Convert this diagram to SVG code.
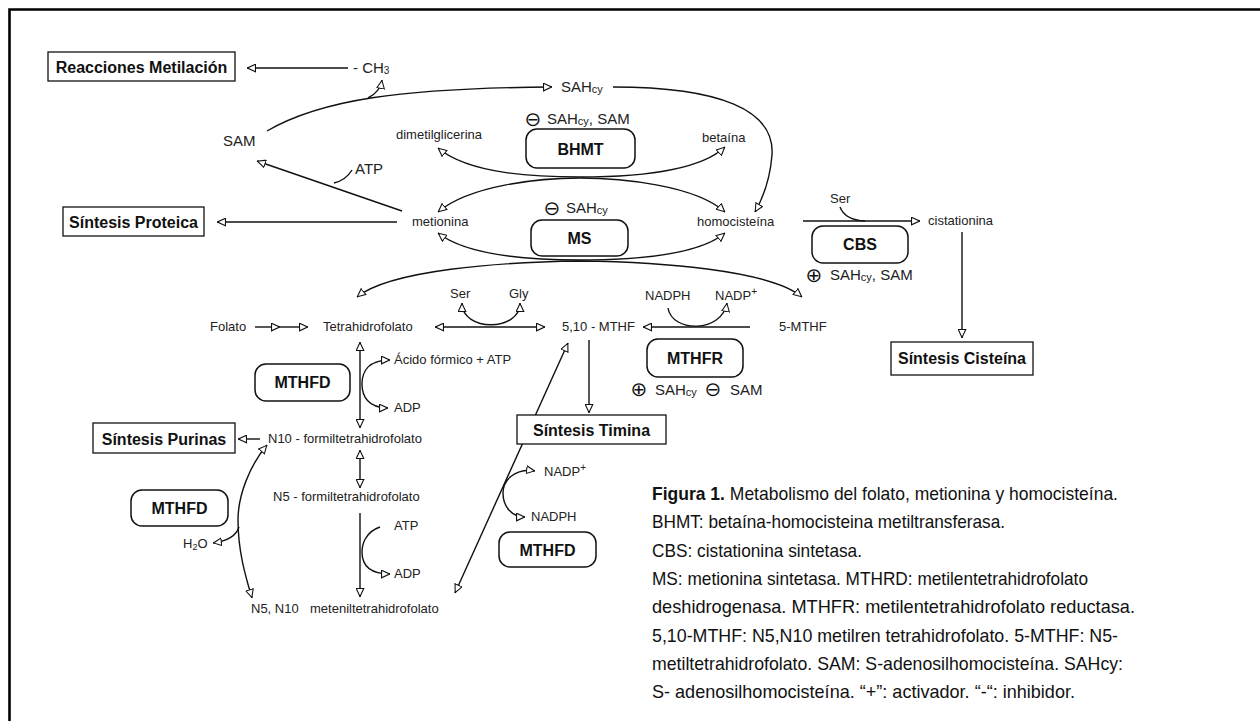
<svg xmlns="http://www.w3.org/2000/svg" width="1260" height="721" viewBox="0 0 1260 721">
<defs>
<style>
.lbl{font-family:"Liberation Sans",Arial,sans-serif;font-size:13px;fill:#222}
.lbm{font-size:15px}
.box{fill:#fff;stroke:#111;stroke-width:1.3}
.rbox{fill:#fff;stroke:#111;stroke-width:1.5}
.bt{font-family:"Liberation Sans",Arial,sans-serif;font-weight:bold;font-size:16px;text-anchor:middle;fill:#111}
.c{fill:none;stroke:#111;stroke-width:1.4}
.sym{font-family:"DejaVu Sans",sans-serif;font-size:20px;text-anchor:middle;fill:#111}
.cap{font-family:"Liberation Sans",Arial,sans-serif;font-size:19px;fill:#111}
</style>
<marker id="a" viewBox="0 0 10 10" refX="10" refY="5" markerWidth="9" markerHeight="9" markerUnits="userSpaceOnUse" orient="auto-start-reverse">
<path d="M0.6,0.8 L9.5,5 L0.6,9.2 z" fill="#fff" stroke="#111" stroke-width="1.2"/>
</marker>
</defs>
<rect width="1260" height="721" fill="#fff"/>
<path d="M9.5,721 V9.5 H1260" fill="none" stroke="#000" stroke-width="2.6"/>

<g id="connectors">
<path class="c" d="M348,68 L247,68" marker-end="url(#a)"/>
<path class="c" d="M267,131 C320,100 400,88 552,87" marker-end="url(#a)"/>
<path class="c" d="M368,98 Q380,92 382,80" marker-end="url(#a)"/>
<path class="c" d="M613,87 C720,87 775,110 772,155 C770,180 763,198 755,212" marker-end="url(#a)"/>
<path class="c" d="M402,211 L257,161" marker-end="url(#a)"/>
<path class="c" d="M334,183 Q346,180 352,170"/>
<path class="c" d="M397,222 L217,222" marker-end="url(#a)"/>
<path class="c" d="M438,148 C470,175 540,177 580,177 C620,177 695,175 725,147" marker-start="url(#a)" marker-end="url(#a)"/>
<path class="c" d="M438,212 C470,185 540,178 580,178 C620,178 695,185 725,212" marker-start="url(#a)" marker-end="url(#a)"/>
<path class="c" d="M438,233 C470,258 540,260 580,260 C620,260 695,258 725,233" marker-start="url(#a)" marker-end="url(#a)"/>
<path class="c" d="M357,297 C390,270 500,262 580,261 C660,262 770,270 802,297" marker-start="url(#a)" marker-end="url(#a)"/>
<path class="c" d="M803,221 L920,221" marker-end="url(#a)"/>
<path class="c" d="M840,207 Q845,220 865,221"/>
<path class="c" d="M962,232 L962,338" marker-end="url(#a)"/>
<path class="c" d="M255,327 L280,327" marker-end="url(#a)"/>
<path class="c" d="M280,327 L308,327" marker-end="url(#a)"/>
<path class="c" d="M435,327 L545,327" marker-start="url(#a)" marker-end="url(#a)"/>
<path class="c" d="M462,303 C462,332 520,332 520,303" marker-start="url(#a)" marker-end="url(#a)"/>
<path class="c" d="M750,327 L643,327" marker-end="url(#a)"/>
<path class="c" d="M668,308 C672,333 722,333 727,303" marker-end="url(#a)"/>
<path class="c" d="M589,340 L589,413" marker-end="url(#a)"/>
<path class="c" d="M455,593 L568,343" marker-start="url(#a)" marker-end="url(#a)"/>
<path class="c" d="M535,471 C515,468 503,480 503,493 C503,507 512,517 525,517" marker-start="url(#a)" marker-end="url(#a)"/>
<path class="c" d="M360,342 L360,428" marker-start="url(#a)" marker-end="url(#a)"/>
<path class="c" d="M390,360 C368,360 362,372 362,384 C362,396 368,408 388,408" marker-start="url(#a)" marker-end="url(#a)"/>
<path class="c" d="M260,439 L238,439" marker-end="url(#a)"/>
<path class="c" d="M360,450 L360,488" marker-start="url(#a)" marker-end="url(#a)"/>
<path class="c" d="M360,513 L360,597" marker-end="url(#a)"/>
<path class="c" d="M380,527 C365,532 362,545 362,552 C362,565 370,574 390,574" marker-end="url(#a)"/>
<path class="c" d="M267,445 C250,465 238,495 238,520 C238,550 245,575 252,598" marker-start="url(#a)" marker-end="url(#a)"/>
<path class="c" d="M239,527 Q235,540 213,543" marker-end="url(#a)"/>
</g>

<g id="reacciones-metilacion"><rect class="box" x="48" y="52" width="187" height="29"/><text class="bt" x="141.5" y="73">Reacciones Metilación</text></g>
<g id="sintesis-proteica"><rect class="box" x="63" y="207" width="141" height="29"/><text class="bt" x="133.5" y="228">Síntesis Proteica</text></g>
<g id="sintesis-cisteina"><rect class="box" x="891" y="342" width="142" height="33"/><text class="bt" x="962" y="364">Síntesis Cisteína</text></g>
<g id="sintesis-purinas"><rect class="box" x="93" y="423" width="142" height="30"/><text class="bt" x="164" y="445">Síntesis Purinas</text></g>
<g id="sintesis-timina"><rect class="box" x="517" y="415" width="149" height="29"/><text class="bt" x="591.5" y="436">Síntesis Timina</text></g>

<g id="bhmt"><rect class="rbox" x="526" y="129" width="109" height="39" rx="11"/><text class="bt" x="580.5" y="155">BHMT</text></g>
<g id="ms"><rect class="rbox" x="531" y="220" width="97" height="36" rx="11"/><text class="bt" x="579.5" y="244">MS</text></g>
<g id="cbs"><rect class="rbox" x="812" y="226" width="96" height="37" rx="11"/><text class="bt" x="860" y="250">CBS</text></g>
<g id="mthfr"><rect class="rbox" x="647" y="339" width="96" height="38" rx="11"/><text class="bt" x="695" y="364">MTHFR</text></g>
<g id="mthfd-1"><rect class="rbox" x="255" y="364" width="95" height="37" rx="11"/><text class="bt" x="302.5" y="388">MTHFD</text></g>
<g id="mthfd-2"><rect class="rbox" x="131" y="490" width="97" height="36" rx="11"/><text class="bt" x="179.5" y="514">MTHFD</text></g>
<g id="mthfd-3"><rect class="rbox" x="499" y="532" width="97" height="35" rx="11"/><text class="bt" x="547.5" y="556">MTHFD</text></g>

<g id="ch3"><text class="lbl lbm" x="353" y="73">- CH<tspan font-size="10" dy="1">3</tspan></text></g>
<g id="sahcy"><text class="lbl lbm" x="561" y="92">SAH<tspan font-size="11" dy="1">cy</tspan></text></g>
<g id="sam"><text class="lbl lbm" x="223" y="146" font-size="16">SAM</text></g>
<g id="atp-1"><text class="lbl lbm" x="355" y="174">ATP</text></g>
<g id="bhmt-inh"><text class="sym" x="533" y="126">⊖</text><text class="lbl lbm" x="547" y="124">SAH<tspan font-size="11" dy="1">cy</tspan><tspan dy="-1">, SAM</tspan></text></g>
<g id="dimetilglicerina"><text class="lbl" x="396" y="139">dimetilglicerina</text></g>
<g id="betaina"><text class="lbl" x="702" y="142">betaína</text></g>
<g id="ms-inh"><text class="sym" x="552" y="215">⊖</text><text class="lbl lbm" x="566" y="213">SAH<tspan font-size="11" dy="1">cy</tspan></text></g>
<g id="metionina"><text class="lbl" x="412" y="226">metionina</text></g>
<g id="homocisteina"><text class="lbl" x="697" y="226">homocisteína</text></g>
<g id="ser-cbs"><text class="lbl" x="830" y="203" font-size="12">Ser</text></g>
<g id="cistationina"><text class="lbl" x="928" y="225">cistationina</text></g>
<g id="cbs-act"><text class="sym" x="814" y="282">⊕</text><text class="lbl lbm" x="830" y="280">SAH<tspan font-size="11" dy="1">cy</tspan><tspan dy="-1">, SAM</tspan></text></g>
<g id="folato"><text class="lbl" x="210" y="331">Folato</text></g>
<g id="tetrahidrofolato"><text class="lbl" x="323" y="331">Tetrahidrofolato</text></g>
<g id="ser-gly"><text class="lbl" x="450" y="298" font-size="12">Ser</text><text class="lbl" x="509" y="298" font-size="12">Gly</text></g>
<g id="mthf-510"><text class="lbl" x="562" y="331" font-size="12">5,10 - MTHF</text></g>
<g id="nadph-nadp"><text class="lbl" x="645" y="300" font-size="12">NADPH</text><text class="lbl" x="715" y="300" font-size="12">NADP<tspan font-size="10" dy="-5">+</tspan></text></g>
<g id="mthf-5"><text class="lbl" x="779" y="331" font-size="12">5-MTHF</text></g>
<g id="mthfr-reg"><text class="sym" x="639" y="396">⊕</text><text class="lbl lbm" x="655" y="395">SAH<tspan font-size="11" dy="1">cy</tspan></text><text class="sym" x="713" y="396">⊖</text><text class="lbl lbm" x="730" y="395">SAM</text></g>
<g id="acido-formico"><text class="lbl" x="394" y="364" font-size="12.5">Ácido fórmico + ATP</text><text class="lbl" x="394" y="412" font-size="12.5">ADP</text></g>
<g id="n10"><text class="lbl" x="268" y="443">N10 - formiltetrahidrofolato</text></g>
<g id="n5"><text class="lbl" x="273" y="501">N5 - formiltetrahidrofolato</text></g>
<g id="atp-adp"><text class="lbl" x="394" y="530" font-size="12.5">ATP</text><text class="lbl" x="394" y="578" font-size="12.5">ADP</text></g>
<g id="h2o"><text class="lbl" x="183" y="548" font-size="12.5">H<tspan font-size="9" dy="2">2</tspan><tspan dy="-2">O</tspan></text></g>
<g id="n5n10"><text class="lbl" x="251" y="613">N5, N10</text><text class="lbl" x="310" y="613">meteniltetrahidrofolato</text></g>
<g id="nadp-mthfd"><text class="lbl" x="544" y="476" font-size="12.5">NADP<tspan font-size="10" dy="-5">+</tspan></text><text class="lbl" x="531" y="521" font-size="12.5">NADPH</text></g>

<g id="caption">
<text class="cap" x="652" y="500" textLength="466" lengthAdjust="spacingAndGlyphs"><tspan font-weight="bold">Figura 1.</tspan> Metabolismo del folato, metionina y homocisteína.</text>
<text class="cap" x="652" y="528" textLength="353" lengthAdjust="spacingAndGlyphs">BHMT: betaína-homocisteina metiltransferasa.</text>
<text class="cap" x="652" y="557" textLength="210" lengthAdjust="spacingAndGlyphs">CBS: cistationina sintetasa.</text>
<text class="cap" x="652" y="585" textLength="436" lengthAdjust="spacingAndGlyphs">MS: metionina sintetasa. MTHRD: metilentetrahidrofolato</text>
<text class="cap" x="652" y="613" textLength="483" lengthAdjust="spacingAndGlyphs">deshidrogenasa. MTHFR: metilentetrahidrofolato reductasa.</text>
<text class="cap" x="652" y="642" textLength="466" lengthAdjust="spacingAndGlyphs">5,10-MTHF: N5,N10 metilren tetrahidrofolato.  5-MTHF: N5-</text>
<text class="cap" x="652" y="670" textLength="471" lengthAdjust="spacingAndGlyphs">metiltetrahidrofolato. SAM: S-adenosilhomocisteína. SAHcy:</text>
<text class="cap" x="652" y="698" textLength="423" lengthAdjust="spacingAndGlyphs">S- adenosilhomocisteína.  “+”: activador.  “-“: inhibidor.</text>
</g>
</svg>
